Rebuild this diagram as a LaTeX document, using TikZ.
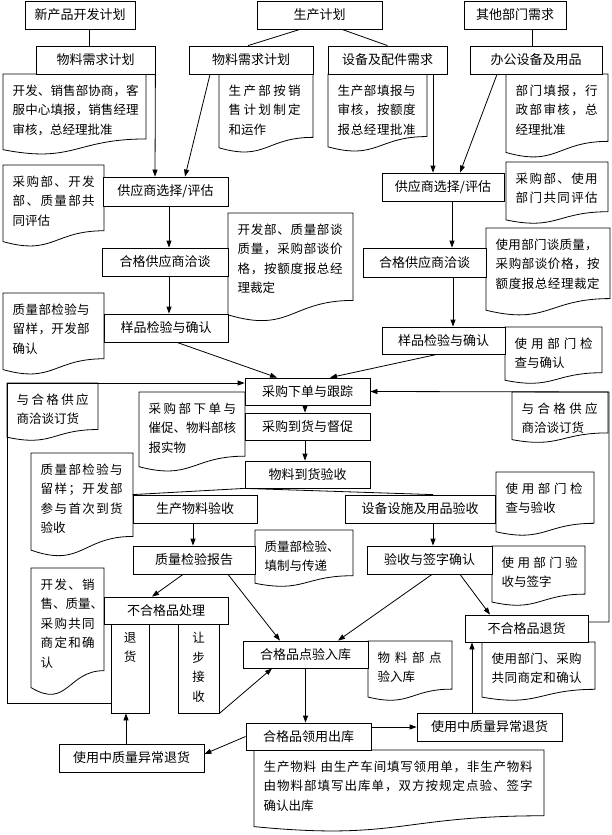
\documentclass[tikz,border=0pt]{standalone}
\usepackage{fontspec}
\setmainfont{Noto Sans CJK SC}
\usetikzlibrary{arrows.meta,calc}
\ExplSyntaxOn
\NewDocumentCommand\spr{mm}{\makebox[#1pt][s]{\tl_map_inline:nn{#2}{##1\hfil}\unskip}}
\ExplSyntaxOff
\tikzset{
 box/.style={draw, line width=0.8pt, fill=white, inner sep=0pt, font=\fontsize{13}{15}\selectfont},
 docline/.style={draw, line width=0.8pt, fill=white},
 notetext/.style={inner sep=0pt, align=left, anchor=north west, font=\fontsize{12.5}{19.5}\selectfont},
 conn/.style={line width=0.8pt},
 arr/.style={conn, -{Triangle[length=7pt,width=5pt]}},
}
\newcommand\bx[6]{\node[box, minimum width={(#4)-(#2)}, minimum height={(#5)-(#3)}] (#1) at ({((#2)+(#4))/2},{((#3)+(#5))/2}) {#6};}
\newcommand\docnote[6]{%
 \path[docline] (#2,#3) -- (#4,#3) -- (#4,{(#3)+0.802*((#5)-(#3))}) .. controls ({((#2)+(#4))/2},{(#3)+0.802*((#5)-(#3))}) and ({((#2)+(#4))/2},{(#3)+1.107*((#5)-(#3))}) .. (#2,{(#3)+0.934*((#5)-(#3))}) -- cycle;
 \node[notetext] (#1) at ({(#2)+9.5},{(#3)+10.5}) {#6};}
\begin{document}
\begin{tikzpicture}[x=1pt,y=-1pt]
\fill[white] (0,0) rectangle (611,835);
\useasboundingbox (0,0) rectangle (611,835);
% notes
\docnote{d1}{3}{74}{146}{155}{\spr{126}{开发、销售部协商，客}\\\spr{126}{服中心填报，销售经理}\\审核，总经理批准}
\docnote{d2}{219}{74}{313}{153}{\spr{72}{生产部按销}\\\spr{72}{售计划制定}\\和运作}
\docnote{d3}{328}{74}{427}{152}{\spr{78}{生产部填报与}\\\spr{78}{审核，按额度}\\\spr{78}{报总经理批准}}
\docnote{d4}{506}{74}{608}{158}{\spr{82}{部门填报，行}\\\spr{82}{政部审核，总}\\经理批准}
\docnote{d5}{3}{165}{104}{247}{\spr{82}{采购部、开发}\\\spr{82}{部、质量部共}\\同评估}
\docnote{d6}{228}{213}{353}{322}{\spr{105}{开发部、质量部谈}\\\spr{105}{质量，采购部谈价}\\\spr{105}{格，按额度报总经}\\理裁定}
\docnote{d7}{3}{293}{104}{375}{\spr{77}{质量部检验与}\\\spr{77}{留样，开发部}\\确认}
\docnote{d8}{506}{162}{608}{224}{\spr{82}{采购部、使用}\\\spr{82}{部门共同评估}}
\docnote{d9}{486}{228}{610}{316}{\spr{102}{使用部门谈质量，}\\\spr{104}{采购部谈价格，按}\\\spr{104}{额度报总经理裁定}}
\docnote{d10}{505}{327}{602}{384}{\spr{78}{使用部门检}\\查与确认}
\docnote{d11}{7}{383}{98}{441}{\spr{72}{与合格供应}\\商洽谈订货}
\docnote{d12}{512}{392}{608}{443}{\spr{76}{与合格供应}\\商洽谈订货}
\docnote{d13}{139}{392}{245}{472}{\spr{87.5}{采购部下单与}\\\spr{87.5}{催促、物料部核}\\报实物}
\docnote{d14}{31}{453}{133}{557}{\spr{82}{质量部检验与}\\\spr{82}{留样；开发部}\\\spr{82}{参与首次到货}\\验收}
\docnote{d15}{496}{472}{594}{536}{\spr{77}{使用部门检}\\查与验收}
\docnote{d16}{255}{530}{353}{587}{质量部检验、\\填制与传递}
\docnote{d17}{492}{546}{585}{606}{\spr{76}{使用部门验}\\收与签字}
\docnote{d18}{31}{568}{104}{696}{\spr{54}{开发、销}\\售、质量、\\\spr{54}{采购共同}\\\spr{54}{商定和确}\\认}
\docnote{d19}{368}{641}{452}{701}{\spr{64}{物料部点}\\验入库}
\docnote{d20}{482}{642}{595}{701}{\spr{90}{使用部门、采购}\\\spr{90}{共同商定和确认}}
\docnote{d21}{254}{750}{544}{832}{\spr{269}{生产物料~由生产车间填写领用单，非生产物料}\\\spr{269}{由物料部填写出库单，双方按规定点验、签字}\\确认出库}
% boxes
\bx{b1}{25}{1}{135}{29}{新产品开发计划}
\bx{b2}{257}{1}{382}{29}{生产计划}
\bx{b3}{464}{1}{566}{29}{其他部门需求}
\bx{b4}{36}{46}{155}{74}{物料需求计划}
\bx{b5}{189}{46}{313}{74}{物料需求计划}
\bx{b6}{328}{46}{447}{74}{设备及配件需求}
\bx{b7}{470}{46}{602}{74}{办公设备及用品}
\bx{L1}{103}{177}{228}{206}{供应商选择/评估}
\bx{L2}{102}{248}{228}{276}{合格供应商洽谈}
\bx{L3}{104}{314}{228}{342}{样品检验与确认}
\bx{R1}{382}{173}{504}{201}{供应商选择/评估}
\bx{R2}{363}{248}{486}{277}{合格供应商洽谈}
\bx{R3}{382}{327}{505}{354}{样品检验与确认}
\bx{P1}{245}{378}{370}{405}{采购下单与跟踪}
\bx{P2}{245}{413}{370}{440}{采购到货与督促}
\bx{P3}{245}{461}{370}{488}{物料到货验收}
\bx{Q1}{133}{495}{257}{523}{生产物料验收}
\bx{Q2}{345}{495}{495}{523}{设备设施及用品验收}
\bx{Q3}{133}{546}{255}{574}{质量检验报告}
\bx{Q4}{367}{546}{492}{574}{验收与签字确认}
\bx{N1}{104}{597}{228}{624}{不合格品处理}
\bx{N2}{111}{624}{149}{713}{}
\bx{N3}{178}{624}{219}{713}{}
\node[notetext, anchor=north, align=center] (N2t) at ([yshift=-8.5]N2.north) {退\\货};
\node[notetext, anchor=north, align=center] (N3t) at ([yshift=-8.5]N3.north) {让\\步\\接\\收};
\bx{K1}{243}{641}{368}{668}{合格品点验入库}
\bx{K2}{465}{615}{588}{642}{不合格品退货}
\bx{K3}{246}{723}{371}{750}{合格品领用出库}
\bx{U1}{59}{744}{204}{772}{使用中质量异常退货}
\bx{U2}{417}{713}{562}{741}{使用中质量异常退货}
% connectors
\draw[conn] ([xshift=9]b1.south) -- ([xshift=-6.5]b4.north);
\draw[conn] ([xshift=-19.5]b2.south) -- ([xshift=-3]b5.north);
\draw[conn] ([xshift=22.5]b2.south) -- (b6.north);
\draw[conn] ([xshift=17]b3.south) -- ([xshift=-4]b7.north);
\draw[arr] (b4.south east) -- ([xshift=-10.5]L1.north);
\draw[arr] ([xshift=-41]b5.south) -- ([xshift=19.5]L1.north);
\draw[arr] ([xshift=45.5]b6.south) -- ([xshift=-10]R1.north);
\draw[arr] ([xshift=-39]b7.south) -- ([xshift=17]R1.north);
\draw[arr] ([xshift=3.5]L1.south) -- ([xshift=3.5]L1.south |- L2.north);
\draw[arr] ([xshift=4]L2.south) -- ([xshift=4]L2.south |- L3.north);
\draw[arr] ([xshift=11]L3.south) -- ([xshift=-30.5]P1.north);
\draw[arr] ([xshift=9]R1.south) -- ([xshift=9]R1.south |- R2.north);
\draw[arr] ([xshift=28.5]R2.south) -- ([xshift=28.5]R2.south |- R3.north);
\draw[arr] ([xshift=-6.5]R3.south) -- ([xshift=22.5]P1.north);
\draw[arr] ([xshift=-2.5]P1.south) -- ([xshift=-2.5]P1.south |- P2.north);
\draw[arr] ([xshift=-2.5]P2.south) -- ([xshift=-2.5]P2.south |- P3.north);
\draw[conn] (P3.south west) -- (Q1.north west);
\draw[conn] (P3.south west) -- ([xshift=13]Q2.north);
\draw[arr] ([xshift=-2]Q1.south) -- ([xshift=-2]Q1.south |- Q3.north);
\draw[arr] ([xshift=13]Q2.south) -- ([xshift=13]Q2.south |- Q4.north);
\draw[arr] ([xshift=-11]Q3.south) -- ([xshift=-14]N1.north);
\draw[arr] ([xshift=34]Q3.south) -- ([xshift=-25.5]K1.north);
\draw[arr] ([xshift=2.5]Q4.south) -- ([xshift=32.5]K1.north);
\draw[arr] ([xshift=30.5]Q4.south) -- ([xshift=-36.5]K2.north);
\draw[arr] (N3.south east) -- ([xshift=-33.5]K1.south);
\draw[arr] (K1.south) -- (K1.south |- K3.north);
\draw[arr] (K3.east |- U2.west) -- (U2.west);
\draw[arr] (K3.west) -- ([yshift=4]U1.east);
\draw[arr] ([xshift=-5.5]U1.north) -- ([xshift=-5.5]U1.north |- N2.south);
\draw[arr] ([xshift=-17.5]U2.north) -- ([xshift=-17.5]U2.north |- K2.south);
\coordinate (loopL) at (7,383);
\coordinate (loopR) at (609,392);
\draw[arr] ([yshift=-34.5]N2.west) -| (loopL) -- ([yshift=8.5]P1.west);
\draw[arr] ([yshift=6.5]K2.east) -| (loopR) -- (P1.east);
\end{tikzpicture}
\end{document}
